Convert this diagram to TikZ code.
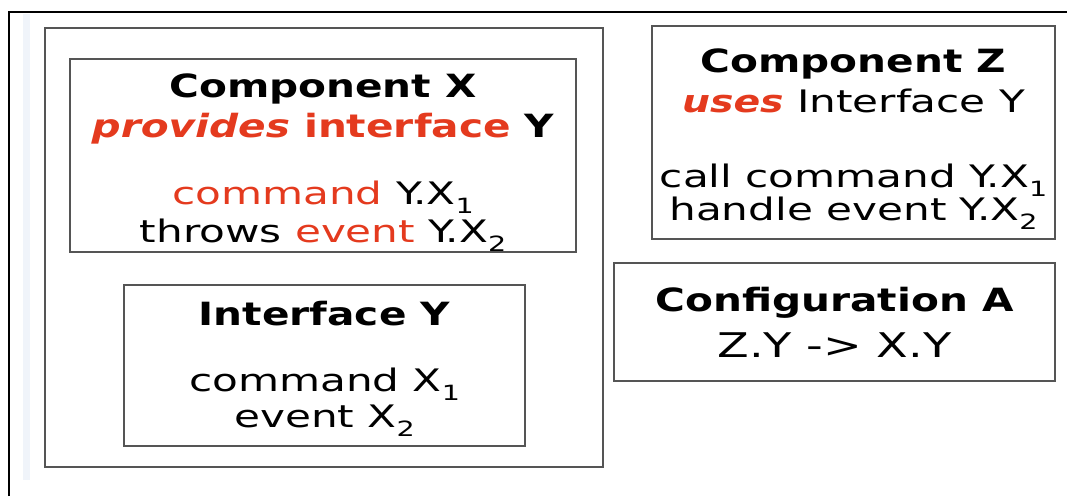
\documentclass[tikz,border=0pt]{standalone}
\usepackage{fontspec}
\setmainfont{DejaVu Sans}[FakeStretch=1.36]
\newfontfamily\heavy{DejaVu Sans}[FakeStretch=1.27]
\definecolor{accent}{RGB}{228,58,30}
\definecolor{boxline}{RGB}{85,85,85}
\definecolor{edgeshade}{RGB}{240,244,250}
\newcommand\subidx[1]{\raisebox{-0.3em}{\fontsize{21}{21}\selectfont #1}}
\begin{document}
\begin{tikzpicture}[x=1pt,y=-1pt,
  box/.style={draw=boxline, line width=2pt, inner sep=0pt, fill=none},
  txt/.style={anchor=base, inner sep=0pt, font=\fontsize{31}{34}\selectfont},
  ttl/.style={anchor=base, inner sep=0pt, font=\fontsize{32}{34}\selectfont\heavy\bfseries}]
\useasboundingbox (0,0) rectangle (1067,496);
% page frame and shaded margin strip
\fill[edgeshade] (23,14) rectangle (30,480);
\draw[line width=2.5pt] (9,496) -- (9,12) -- (1067,12);

% boxes
\node[box, minimum width=558pt, minimum height=439pt] (outer) at (324,247.5) {};
\node[box, minimum width=506pt, minimum height=193pt] (compX) at (323,155.5) {};
\node[box, minimum width=401pt, minimum height=161pt] (ifaceY) at (324.5,365.5) {};
\node[box, minimum width=403pt, minimum height=213pt] (compZ) at (853.5,132.5) {};
\node[box, minimum width=441pt, minimum height=118pt] (confA) at (834.5,322) {};

% Component X
\node[ttl] (x1) at (323,97) {Component X};
\node[ttl] (x2) at (323,137) {\textcolor{accent}{\itshape provides} \textcolor{accent}{interface} Y};
\node[txt] (x3) at (323,204) {\textcolor{accent}{command} Y.X\subidx{1}};
\node[txt] (x4) at (323,242) {throws \textcolor{accent}{event} Y.X\subidx{2}};

% Interface Y
\node[ttl] (y1) at (324.5,325) {Interface Y};
\node[txt] (y2) at (324.5,391) {command X\subidx{1}};
\node[txt] (y3) at (324.5,427) {event X\subidx{2}};

% Component Z
\node[ttl] (z1) at (853.5,72) {Component Z};
\node[txt] (z2) at (853.5,112) {\textcolor{accent}{\heavy\bfseries\itshape uses} Interface Y};
\node[txt] (z3) at (853.5,187) {call command Y.X\subidx{1}};
\node[txt] (z4) at (853.5,220) {handle event Y.X\subidx{2}};

% Configuration A
\node[ttl] (a1) at (834.5,311) {Configuration A};
\node[txt, font=\fontsize{34}{36}\selectfont] (a2) at (834.5,357) {Z.Y -> X.Y};
\end{tikzpicture}
\end{document}
